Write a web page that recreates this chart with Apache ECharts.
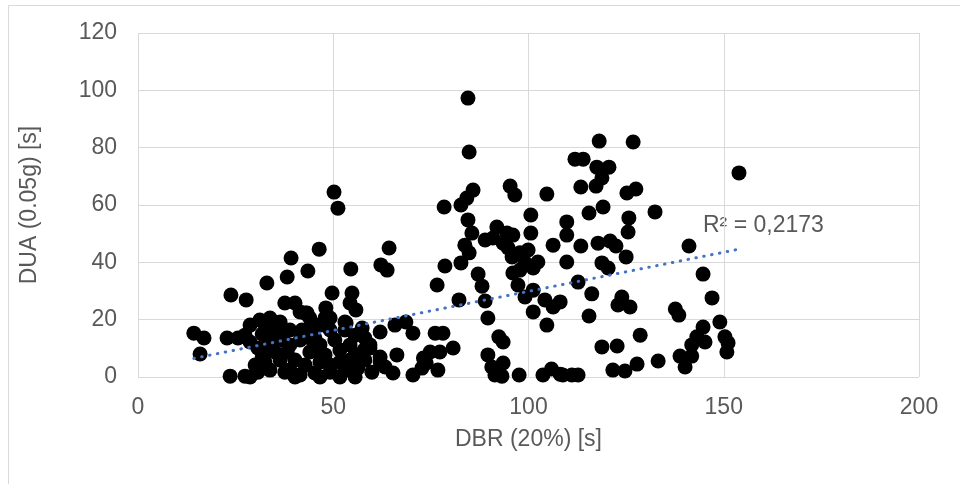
<!DOCTYPE html>
<html>
<head>
<meta charset="utf-8">
<script src="https://cdn.jsdelivr.net/npm/echarts@6/dist/echarts.min.js"></script>
<style>
  html, body { margin: 0; padding: 0; background: #ffffff; }
  #chart { width: 960px; height: 484px; }
</style>
</head>
<body>
<div id="chart"></div>
<script>
// DBR (20%) [s] — x value of each observation
const dbr = [
  31.2, 33.8, 36.4, 41.5, 44.0, 31.8, 35.1, 37.1, 30.7, 33.3, 38.9, 41.5, 45.3, 49.2, 53.0, 55.6, 57.4, 59.4, 51.7, 47.9,
  44.0, 40.2, 36.4, 32.5, 30.0, 33.8, 37.6, 41.5, 45.3, 49.2, 53.0, 56.3, 59.9, 62.0, 28.7, 40.2, 46.6, 51.7, 55.6, 42.8,
  46.6, 50.4, 54.3, 44.0, 38.9, 46.6, 51.7, 55.6, 58.1, 35.1, 38.9, 53.0, 49.2, 46.6, 28.7, 27.4,
  38.2, 46.1, 42.0, 31.8, 49.2, 54.3, 44.6, 34.8, 57.9,
  14.3, 16.9, 15.9, 22.8, 25.6, 28.7, 23.6, 27.4, 30.7, 23.8, 27.7, 33.0, 38.2, 43.5, 39.2, 46.4, 50.2, 51.2, 54.5, 62.2,
  63.8, 64.3, 49.7, 54.8, 54.3, 55.8, 48.1, 47.9, 43.3, 53.3, 37.6, 40.2, 42.8, 32.3, 36.1,
  62.0, 65.8, 68.6, 70.4, 62.0, 66.3, 63.3, 65.3, 70.4, 58.1, 59.4, 73.8, 76.8, 72.7, 73.1, 74.8, 77.3, 80.7, 76.1, 78.1,
  76.6, 78.6, 78.4,
  84.5, 84.8, 85.8, 84.2, 82.7, 84.5, 85.5, 83.7, 84.8, 82.7, 82.2, 87.1, 88.1, 89.6, 92.4, 93.5, 89.6, 90.6, 93.5, 93.2,
  91.4, 97.6, 91.9, 94.5, 96.0, 88.9, 90.9, 93.5, 94.8, 95.8, 88.9, 95.3, 96.5,
  100.6, 100.6, 99.9, 97.8, 106.3, 109.8, 109.8, 104.7, 109.8, 102.4, 101.2, 99.1, 96.0, 97.8, 97.3, 99.1, 101.2, 101.2,
  104.2, 106.3, 108.1, 104.7, 105.9, 103.7, 108.1, 108.8, 111.1, 112.7,
  118.1, 126.8, 111.9, 114.0, 117.5, 120.6, 118.8, 113.4, 117.3, 125.2, 127.5, 119.1, 115.5, 132.4, 125.7, 125.5, 113.4,
  117.8, 120.9, 122.4, 141.1, 118.8, 120.4, 125.0, 112.7, 144.7, 116.2, 123.9, 122.9, 126.0, 115.5, 137.6, 138.5, 147.0,
  128.6, 118.8, 122.7, 133.2, 127.8, 121.6, 124.7, 138.8, 141.8, 140.1, 141.8, 143.1, 144.7, 145.2, 153.9, 149.0, 150.3,
  151.1, 150.8
];

// DUA (0.05g) [s] — y value of each observation, same order as dbr
const dua = [
  19.9, 20.6, 19.2, 22.7, 20.6, 15.0, 16.4, 12.9, 10.1, 11.2, 11.2, 12.9, 13.6, 16.4, 16.4, 14.6, 17.1, 11.2, 9.4, 7.7,
  8.7, 5.9, 5.9, 5.2, 4.2, 2.4, 1.7, 0.7, 1.4, 1.7, 2.4, 3.1, 1.7, 5.2, 0.0, 0.0, 0.0, 0.0, 0.0, 4.2,
  11.2, 12.9, 11.2, 16.4, 16.4, 5.2, 5.2, 7.7, 5.9, 8.7, 2.4, 19.2, 20.6, 18.1, 18.1, 14.6,
  8.7, 9.4, 16.4, 7.0, 4.2, 5.9, 12.9, 12.9, 9.4,
  15.3, 13.6, 8.0, 13.6, 13.6, 12.2, 0.3, 0.3, 1.7, 28.6, 26.9, 32.8, 34.9, 37.0, 41.5, 44.6, 64.5, 58.9, 37.7, 39.1,
  37.3, 45.0, 29.3, 29.3, 25.8, 23.4, 24.1, 20.6, 22.3, 18.8, 25.8, 25.8, 22.3, 18.8, 17.4,
  15.7, 18.1, 19.2, 15.3, 7.0, 7.7, 3.5, 1.4, 0.7, 13.6, 10.1, 4.9, 2.4, 3.1, 6.6, 8.7, 8.7, 10.1, 15.3, 15.3,
  32.1, 38.7, 59.3,
  97.3, 78.5, 65.2, 62.4, 60.0, 54.8, 50.2, 46.0, 43.3, 39.8, 26.9, 35.9, 31.7, 20.6, 14.0, 12.2, 7.7, 3.5, 4.9, 0.3,
  0.7, 0.7, 52.3, 50.2, 49.5, 47.8, 48.5, 46.7, 45.0, 41.9, 26.5, 66.6, 63.5,
  56.5, 50.2, 44.3, 43.3, 46.0, 49.5, 54.1, 63.8, 40.1, 40.1, 38.0, 39.8, 36.3, 37.3, 32.1, 27.9, 30.3, 22.7,
  26.9, 24.4, 26.2, 18.1, 2.8, 0.7, 1.0, 0.7, 0.7, 0.7,
  82.3, 82.0, 76.0, 76.0, 73.2, 73.2, 69.4, 66.3, 66.6, 64.2, 65.6, 59.3, 57.2, 57.6, 55.5, 50.6, 45.7,
  46.7, 47.4, 45.7, 45.7, 39.8, 38.0, 41.9, 33.1, 35.9, 29.0, 27.9, 25.1, 24.4, 21.3, 23.7, 21.6, 27.6,
  14.6, 10.5, 10.8, 5.6, 4.5, 2.4, 2.1, 7.3, 7.3, 3.5, 11.2, 14.0, 17.4, 12.2, 71.2, 19.2, 14.0,
  11.9, 8.7
];

// Axis tick values
const xTicks = [0, 50, 100, 150, 200];
const yTicks = [0, 20, 40, 60, 80, 100, 120];

// Linear trend fitted to the data, and its coefficient of determination
const trendSlope = 0.2728;
const trendIntercept = 2.6;
const rSquaredText = 'R² = 0,2173';

const points = dbr.map((x, i) => [x, dua[i]]);
const xMin = Math.min(...dbr);
const xMax = Math.max(...dbr);
const trend = [
  [xMin, trendIntercept + trendSlope * xMin],
  [xMax, trendIntercept + trendSlope * xMax]
];

const textColor = '#595959';
const fontFamily = "'Liberation Sans', Arial, sans-serif";
const fontSize = 23;

const chart = echarts.init(document.getElementById('chart'), null, { renderer: 'canvas' });
chart.setOption({
  animation: false,
  backgroundColor: '#ffffff',
  grid: { left: 138, right: 41, top: 33, bottom: 107, containLabel: false },
  graphic: [
    {
      type: 'rect',
      shape: { x: 8.5, y: 5.5, width: 960, height: 500 },
      style: { fill: 'none', stroke: '#d9d9d9', lineWidth: 1 },
      silent: true,
      z: -10
    },
    {
      type: 'text',
      left: 703,
      top: 214,
      style: { text: rSquaredText, fill: textColor, font: fontSize + 'px ' + fontFamily }
    }
  ],
  xAxis: {
    type: 'value',
    min: xTicks[0],
    max: xTicks[xTicks.length - 1],
    interval: 50,
    name: 'DBR (20%) [s]',
    nameLocation: 'middle',
    nameGap: 51,
    nameTextStyle: { color: textColor, fontSize: fontSize, fontFamily: fontFamily },
    axisLine: { show: false },
    axisTick: { show: false },
    axisLabel: { color: textColor, fontSize: fontSize, fontFamily: fontFamily, margin: 19 },
    splitLine: { show: true, lineStyle: { color: '#d9d9d9', width: 1 } }
  },
  yAxis: {
    type: 'value',
    min: yTicks[0],
    max: yTicks[yTicks.length - 1],
    interval: 20,
    name: 'DUA (0.05g) [s]',
    nameLocation: 'middle',
    nameGap: 97,
    nameTextStyle: { color: textColor, fontSize: fontSize, fontFamily: fontFamily },
    axisLine: { show: false },
    axisTick: { show: false },
    axisLabel: { color: textColor, fontSize: fontSize, fontFamily: fontFamily, margin: 21 },
    splitLine: { show: true, lineStyle: { color: '#d9d9d9', width: 1 } }
  },
  series: [
    {
      type: 'scatter',
      data: points,
      symbol: 'circle',
      symbolSize: 15,
      itemStyle: { color: '#000000', opacity: 1 },
      z: 2
    },
    {
      type: 'line',
      data: trend,
      symbol: 'none',
      lineStyle: { color: '#4472C4', width: 3, type: [0.5, 7.5], cap: 'round' },
      z: 3
    }
  ]
});
</script>
</body>
</html>
